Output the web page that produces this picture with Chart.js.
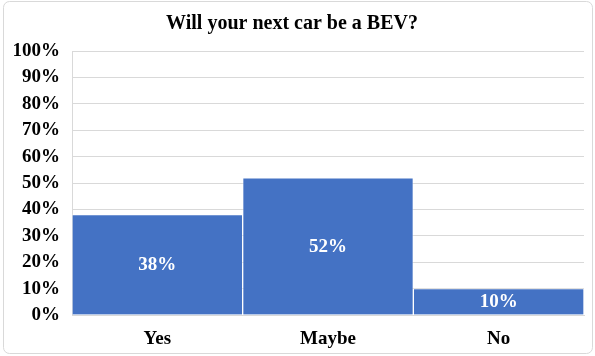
<!DOCTYPE html>
<html lang="en">
<head>
<meta charset="UTF-8">
<title>Will your next car be a BEV?</title>
<script src="https://cdn.jsdelivr.net/npm/chart.js"></script>
<style>
  html, body { margin: 0; padding: 0; background: #fff; }
  #wrap { width: 595px; height: 356px; }
</style>
</head>
<body>
<div id="wrap"><canvas id="bevChart"></canvas></div>
<script>
// survey answers and share of respondents (%)
const answers = ['Yes', 'Maybe', 'No'];
const shares = [38, 52, 10];
const yTicks = [0, 10, 20, 30, 40, 50, 60, 70, 80, 90, 100];

const serif = "'Liberation Serif', 'Times New Roman', serif";
const barBlue = '#4472C4';
const gridGrey = '#d9d9d9';

// rounded frame around the whole chart
const framePlugin = {
  id: 'frame',
  beforeDraw(chart) {
    const ctx = chart.ctx;
    ctx.save();
    ctx.fillStyle = '#fff';
    ctx.fillRect(0, 0, chart.width, chart.height);
    ctx.strokeStyle = gridGrey;
    ctx.lineWidth = 1;
    ctx.beginPath();
    ctx.roundRect(3.5, 1.5, 589, 352, 6);
    ctx.stroke();
    ctx.restore();
  }
};

// value labels in the middle of each bar
const barLabels = {
  id: 'barLabels',
  afterDatasetsDraw(chart) {
    const ctx = chart.ctx;
    const meta = chart.getDatasetMeta(0);
    ctx.save();
    ctx.fillStyle = '#fff';
    ctx.font = 'bold 19px ' + serif;
    ctx.textAlign = 'center';
    ctx.textBaseline = 'middle';
    meta.data.forEach((bar, i) => {
      const mid = (bar.y + bar.base) / 2;
      ctx.fillText(shares[i] + '%', bar.x, mid + 1);
    });
    ctx.restore();
  }
};

new Chart(document.getElementById('bevChart'), {
  type: 'bar',
  data: {
    labels: answers,
    datasets: [{
      data: shares,
      backgroundColor: barBlue,
      borderColor: 'rgba(255,255,255,0.35)',
      borderWidth: 1,
      barPercentage: 1,
      categoryPercentage: 1
    }]
  },
  options: {
    responsive: true,
    maintainAspectRatio: false,
    animation: false,
    layout: { padding: { left: 0, right: 11, top: 0, bottom: 0 } },
    plugins: {
      legend: { display: false },
      tooltip: { enabled: false },
      title: {
        display: true,
        text: 'Will your next car be a BEV?',
        color: '#000',
        font: { family: serif, size: 20, weight: 'bold' },
        padding: { top: 12, bottom: 15 }
      }
    },
    scales: {
      x: {
        grid: { display: false, drawTicks: false },
        border: { color: gridGrey },
        ticks: {
          color: '#000',
          padding: 13,
          font: { family: serif, size: 19, weight: 'bold' }
        },
        afterFit(scale) { scale.height = 41; }
      },
      y: {
        min: 0,
        max: 100,
        afterBuildTicks(scale) { scale.ticks = yTicks.map(v => ({ value: v })); },
        grid: { color: gridGrey, drawTicks: false },
        border: { color: gridGrey },
        ticks: {
          color: '#000',
          padding: 12,
          font: { family: serif, size: 19, weight: 'bold' },
          callback: v => v + '%'
        },
        afterFit(scale) { scale.width = 72; }
      }
    }
  },
  plugins: [framePlugin, barLabels]
});
</script>
</body>
</html>
